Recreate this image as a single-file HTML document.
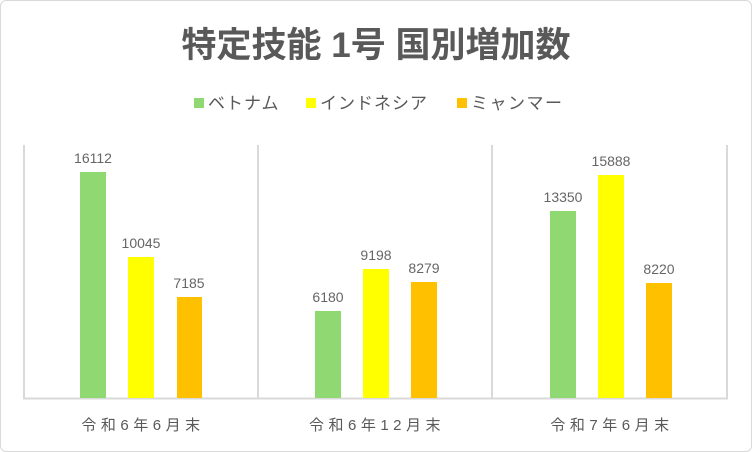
<!DOCTYPE html>
<html><head><meta charset="utf-8"><style>
body{margin:0;background:#fff}
.c{position:absolute;left:0;top:0;width:750px;height:450px;border:1px solid #d9d9d9;border-radius:6px;overflow:hidden;font-family:"Liberation Sans","Noto Sans CJK JP",sans-serif}
</style></head><body>
<div class="c">
<svg width="752" height="452" style="position:absolute;left:-1px;top:-1px" font-family="Liberation Sans, Noto Sans CJK JP, sans-serif">
<text x="376" y="57" text-anchor="middle" font-size="35" font-weight="bold" fill="#595959">特定技能 1号 国別増加数</text>
<rect x="194" y="98" width="10" height="10" fill="#8fd872"/>
<text x="208" y="109" font-size="17" fill="#595959" letter-spacing="1">ベトナム</text>
<rect x="306" y="98" width="10" height="10" fill="#ffff00"/>
<text x="320" y="109" font-size="17" fill="#595959" letter-spacing="1">インドネシア</text>
<rect x="457" y="98" width="10" height="10" fill="#ffc000"/>
<text x="471" y="109" font-size="17" fill="#595959" letter-spacing="1.5">ミャンマー</text>
<g stroke="#d9d9d9" stroke-width="2">
<line x1="24" y1="145" x2="24" y2="398"/><line x1="258" y1="145" x2="258" y2="398"/>
<line x1="492" y1="145" x2="492" y2="398"/><line x1="727" y1="145" x2="727" y2="398"/>
<line x1="23" y1="398.5" x2="728" y2="398.5"/>
</g>
<g>
<rect x="80" y="172" width="26" height="226" fill="#8fd872"/>
<rect x="128" y="257" width="26" height="141" fill="#ffff00"/>
<rect x="177" y="297" width="25" height="101" fill="#ffc000"/>
<rect x="315" y="311" width="26" height="87" fill="#8fd872"/>
<rect x="363" y="269" width="26" height="129" fill="#ffff00"/>
<rect x="411" y="282" width="26" height="116" fill="#ffc000"/>
<rect x="550" y="211" width="26" height="187" fill="#8fd872"/>
<rect x="598" y="175" width="26" height="223" fill="#ffff00"/>
<rect x="646" y="283" width="26" height="115" fill="#ffc000"/>
</g>
<g font-size="14" fill="#666" text-anchor="middle">
<text x="93" y="163">16112</text><text x="141" y="248">10045</text><text x="189" y="288">7185</text>
<text x="328" y="302">6180</text><text x="376" y="260">9198</text><text x="424" y="273">8279</text>
<text x="563" y="202">13350</text><text x="611" y="166">15888</text><text x="659" y="274">8220</text>
</g>
<g font-size="15" fill="#595959" text-anchor="middle" letter-spacing="4.5">
<text x="143" y="430">令和6年6月末</text>
<text x="377" y="430">令和6年12月末</text>
<text x="612" y="430">令和7年6月末</text>
</g>
</svg>
</div>
</body></html>
